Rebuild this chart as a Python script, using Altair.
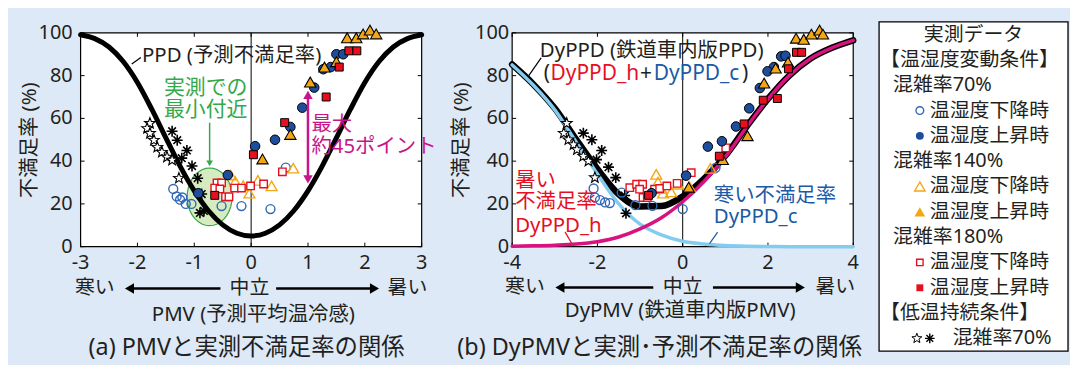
import math
import altair as alt
import pandas as pd

FONT = "'Noto Sans', 'Noto Sans CJK JP'"
BG = "#dde9f6"
TXT = "#231f20"
BLUE_F = "#1d4e9e"
BLUE_O = "#2e66b8"
ORANGE = "#f5a614"
RED = "#e60f1e"
MAGENTA = "#d8127f"
CYAN = "#83ccf0"
GREEN = "#35a84a"
ARROW_MAG = "#c8158a"
RED_TXT = "#e60f24"
BLUE_TXT = "#1b5aa6"
AST = "M -1 0 L 1 0 M 0 -1 L 0 1 M -0.7 -0.7 L 0.7 0.7 M -0.7 0.7 L 0.7 -0.7"
ELLIPSE = "M " + " L ".join(
    "%.3f %.3f" % (0.78 * math.cos(2 * math.pi * k / 36), math.sin(2 * math.pi * k / 36))
    for k in range(36)) + " Z"
STAR = "M " + " L ".join(
    "%.3f %.3f" % ((1.0 if k % 2 == 0 else 0.42) * math.cos(math.radians(-90 + 36 * k)),
                   (1.0 if k % 2 == 0 else 0.42) * math.sin(math.radians(-90 + 36 * k)))
    for k in range(10)) + " Z"
TICK_R, TICK_L, TICK_U, TICK_D = "M 0 0 L 1 0", "M 0 0 L -1 0", "M 0 0 L 0 -1", "M 0 0 L 0 1"

# ---------------- axes ----------------
y_ticks = [0, 20, 40, 60, 80, 100]
y_tick_labels = ["0", "20", "40", "60", "80", "100"]
a_x_ticks = [-3, -2, -1, 0, 1, 2, 3]
a_x_tick_labels = ["-3", "-2", "-1", "0", "1", "2", "3"]
b_x_ticks = [-4, -2, 0, 2, 4]
b_x_tick_labels = ["-4", "-2", "0", "2", "4"]

# ---------------- panel (a): PMV ----------------
a_c_open_x = [-1.37, -1.31, -1.25, -1.21, -1.15, -1.05, -0.52, -0.17, 0.34, 0.61]
a_c_open_y = [27, 23.5, 22, 23, 20, 20, 19, 19, 17.6, 37]
a_c_fill_x = [1.5, 1.62, 1.27, 1.4, 1.11, 0.9, 0.69, 0.42, 0.07, -0.41, -0.93]
a_c_fill_y = [90, 90, 83, 84, 74.4, 65, 56, 50, 47, 33.5, 25]
a_t_open_x = [-0.36, -0.28, -0.14, -0.03, 0.12, 0.36, 0.74]
a_t_open_y = [33.5, 30.5, 28.5, 25, 31, 28.4, 36.7]
a_t_fill_x = [1.69, 1.85, 1.97, 2.09, 2.2, 1.29, 1.5, 1.04, 0.69, 0.2]
a_t_fill_y = [97.7, 97.7, 99.5, 101.3, 99.5, 84, 86.5, 77, 52.5, 41]
a_s_open_x = [-0.6, -0.52, -0.64, -0.55, -0.45, -0.39, -0.29, -0.17, -0.01, 0.22, 0.55]
a_s_open_y = [29.8, 29.8, 27.4, 27, 23.3, 23.3, 27.4, 27.4, 28.4, 29.3, 35]
a_s_fill_x = [1.72, 1.86, 1.55, 1.32, 0.59, 0.04, -0.64]
a_s_fill_y = [91.6, 91.6, 84, 70, 58, 43, 24]
a_star_x = [-1.78, -1.83, -1.78, -1.71, -1.65, -1.57, -1.48, -1.39, -1.27]
a_star_y = [57.7, 55.3, 53, 49.8, 46.5, 44.2, 41.9, 40.5, 32]
a_ast_x = [-1.39, -1.3, -1.13, -1.22, -1.04, -0.94, -0.87, -0.9, -0.83]
a_ast_y = [54, 49.8, 45, 41.4, 37.7, 32, 24.6, 15.8, 16.7]

ppd_x = [-3, -2.75, -2.5, -2.25, -2, -1.75, -1.5, -1.25, -1, -0.75, -0.5, -0.25, 0,
         0.25, 0.5, 0.75, 1, 1.25, 1.5, 1.75, 2, 2.25, 2.5, 2.75, 3]
ppd_y = [99.1, 97.3, 93.4, 86.6, 76.8, 64.4, 50.9, 37.7, 26.1, 16.8, 10.2, 6.3, 5,
         6.3, 10.2, 16.8, 26.1, 37.7, 50.9, 64.4, 76.8, 86.6, 93.4, 97.3, 99.1]

# ---------------- panel (b): DyPMV ----------------
b_c_open_x = [-2.09, -2.06, -1.94, -1.82, -1.71, -1.43, -1.11, -0.71, 0.0, 0.77]
b_c_open_y = [27.2, 23, 21.8, 20.7, 20.4, 25.3, 19.4, 19.1, 17.6, 36.9]
b_c_fill_x = [2.31, 2.41, 2.14, 1.99, 1.81, 1.56, 1.25, 0.92, 0.59, 0.08, -0.73]
b_c_fill_y = [89, 89.3, 84, 82, 74.2, 64.7, 56.2, 49.3, 46.8, 33.2, 25]
b_t_open_x = [-0.62, -0.58, -0.5, -0.46, -0.27, -0.11, 0.16, 0.65]
b_t_open_y = [33.8, 30.2, 27.2, 25, 25.6, 29.2, 28.1, 36.6]
b_t_fill_x = [2.66, 2.84, 3.02, 3.21, 3.29, 2.18, 2.47, 1.91, 1.52, 0.94, 0.14]
b_t_fill_y = [97.5, 97, 99.4, 101.3, 99.4, 83.5, 86.3, 76.5, 51.9, 40.7, 27.8]
b_s_open_x = [-1.24, -1.08, -0.94, -1.01, -0.93, -0.83, -0.66, -0.54, -0.37, -0.13, 0.2, 1.01]
b_s_open_y = [27.6, 29.2, 29.2, 26.9, 23, 23, 26.9, 27.2, 28.4, 29.6, 34.6, 46.2]
b_s_fill_x = [2.67, 2.79, 2.48, 1.89, 2.22, 1.44, 0.86, -0.8]
b_s_fill_y = [90.9, 90.9, 83.2, 68.5, 69.3, 57.4, 42.3, 24]
b_star_x = [-2.72, -2.79, -2.68, -2.56, -2.48, -2.33, -2.21, -2.06]
b_star_y = [57.7, 53.1, 50, 47.7, 45.4, 42.3, 40, 32.3]
b_ast_x = [-2.33, -2.13, -1.9, -2.02, -1.74, -1.57, -1.36, -1.33]
b_ast_y = [53.1, 50, 45, 40.7, 37.2, 32.3, 23.9, 15.6]

dy_x = [-4, -3.5, -3, -2.5, -2, -1.5, -1, -0.5, 0, 0.5, 1, 1.5, 2, 2.5, 3, 3.5, 4]
dyppd_c = [85, 75.5, 64, 49, 34, 20, 10.5, 5.5, 2.5, 1.2, 0.5, 0.2, 0.1, 0, 0, 0, 0]
dyppd_h = [0.2, 0.4, 0.7, 1.2, 2.3, 4.5, 8.3, 13.5, 21, 30.5, 42, 56, 69, 80, 88, 93, 96.5]
dyppd = [85.2, 75.9, 64.7, 50.2, 36.3, 24.5, 18.8, 19, 23.5, 31.7, 42.5, 56.2, 69.1, 80, 88, 93, 96.5]

# ---------------- legend text ----------------
leg_header = "実測データ"
leg_sections = ["【温湿度変動条件】", "【低温持続条件】"]
leg_groups = ["混雑率70%", "混雑率140%", "混雑率180%"]
leg_items = ["温湿度下降時", "温湿度上昇時"]
leg_last = "混雑率70%"

# ---------------- layout (canvas pixels) ----------------
CW, CH = 1068, 357
A_RANGE = [73, 416]
B_RANGE = [507, 850]
Y_RANGE = [239, 24]
LEG_X = [876, 1066]
LEG_Y = [13, 344]
TICK_LABEL_Y = 255


def df(**cols):
    return pd.DataFrame(cols)


def xy(xs, ys):
    return pd.DataFrame({"x": xs, "y": ys})


SY = alt.Scale(domain=[0, 100], range=Y_RANGE, nice=False, zero=False)
YP = alt.Y("y:Q", scale=SY, axis=None)

STYLE = {
    "c_open": dict(shape="circle", filled=False, color=BLUE_O, strokeWidth=1.4, size=80),
    "c_fill": dict(shape="circle", filled=True, fill=BLUE_F, stroke="black", strokeWidth=1, size=92),
    "t_open": dict(shape="triangle-up", filled=False, color=ORANGE, strokeWidth=1.4, size=120),
    "t_fill": dict(shape="triangle-up", filled=True, fill=ORANGE, stroke="black", strokeWidth=1.1, size=130),
    "s_open": dict(shape="square", filled=True, fill="white", stroke=RED, strokeWidth=1.4, size=56),
    "s_fill": dict(shape="square", filled=True, fill=RED, stroke="black", strokeWidth=1, size=64),
    "star": dict(shape=STAR, filled=True, fill="white", stroke="black", strokeWidth=1.1, size=130),
    "ast": dict(shape=AST, filled=False, color="black", strokeWidth=1.6, size=120),
}


def text(data, XE, YE, color=TXT, size=20, align="left", angle=0):
    return alt.Chart(data).mark_text(font=FONT, fontSize=size, color=color, align=align,
                                     baseline="middle", angle=angle).encode(x=XE, y=YE, text="t:N")


def panel(domain, rng, xticks, xlabels, pts, curves, texts, rules, heads, ellipse,
          row_words, row_rules, row_heads, ylab_x, ytitle_x, xtitle, xtitle_x, xtitle_y,
          caption, caption_x, row_y):
    SX = alt.Scale(domain=domain, range=rng, nice=False, zero=False)
    XE = alt.X("x:Q", scale=SX, axis=None)
    L = []
    # plot frame (white area)
    L.append(alt.Chart(df(x=[domain[0]], x2=[domain[1]], y=[0], y2=[100])).mark_rect(
        fill="white", stroke="black", strokeWidth=1.2).encode(x=XE, x2="x2:Q", y=YP, y2="y2:Q"))
    # inner ticks on all four sides
    L.append(alt.Chart(df(x=[domain[0]] * 6, y=y_ticks)).mark_point(
        shape=TICK_R, filled=False, color="black", size=64, opacity=1, strokeWidth=1).encode(x=XE, y=YP))
    L.append(alt.Chart(df(x=[domain[1]] * 6, y=y_ticks)).mark_point(
        shape=TICK_L, filled=False, color="black", size=64, opacity=1, strokeWidth=1).encode(x=XE, y=YP))
    L.append(alt.Chart(df(x=xticks, y=[0] * len(xticks))).mark_point(
        shape=TICK_U, filled=False, color="black", size=64, opacity=1, strokeWidth=1).encode(x=XE, y=YP))
    L.append(alt.Chart(df(x=xticks, y=[100] * len(xticks))).mark_point(
        shape=TICK_D, filled=False, color="black", size=64, opacity=1, strokeWidth=1).encode(x=XE, y=YP))
    if ellipse is not None:
        L.append(alt.Chart(ellipse).mark_point(
            shape=ELLIPSE, filled=True, fill="#d6ebbf", stroke=GREEN, strokeWidth=1.2, size=3364,
            opacity=1).encode(x=XE, y=YP))
    # zero line
    L.append(alt.Chart(df(x=[0], y=[0], y2=[100])).mark_rule(color="black", strokeWidth=1).encode(
        x=XE, y=YP, y2="y2:Q"))
    for d, color, w in curves:
        L.append(alt.Chart(d).mark_line(color=color, strokeWidth=w, interpolate="monotone",
                                        strokeCap="round").encode(x=XE, y=YP))
    for key, d in pts:
        L.append(alt.Chart(d).mark_point(opacity=1, **STYLE[key]).encode(x=XE, y=YP))
    for d, color, w in rules:
        L.append(alt.Chart(d).mark_rule(color=color, strokeWidth=w).encode(
            x=XE, y=YP, x2="x2:Q", y2="y2:Q"))
    for d, shape, color, size in heads:
        L.append(alt.Chart(d).mark_point(shape=shape, filled=True, color=color, size=size,
                                         opacity=1).encode(x=XE, y=YP))
    for d, color, fs, align in texts:
        L.append(text(d, XE, YP, color, fs, align))
    # tick labels
    L.append(text(df(x=xticks, t=xlabels), XE, alt.value(TICK_LABEL_Y), size=20, align="center"))
    L.append(text(df(y=y_ticks, t=y_tick_labels), alt.value(ylab_x), YP, size=20, align="right"))
    # axis titles
    L.append(text(df(t=["不満足率 (%)"]), alt.value(ytitle_x), alt.value(132), size=20.5,
                  align="center", angle=270))
    L.append(text(df(x=[xtitle_x], t=[xtitle]), XE, alt.value(xtitle_y), size=20.5, align="center"))
    # cold <- neutral -> hot row
    L.append(alt.Chart(row_rules).mark_rule(color="black", strokeWidth=2.5).encode(
        x=XE, x2="x2:Q", y=alt.value(row_y)))
    for d, shape in row_heads:
        L.append(alt.Chart(d).mark_point(shape=shape, filled=True, color="black", size=110,
                                         opacity=1).encode(x=XE, y=alt.value(row_y)))
    L.append(text(row_words, XE, alt.value(row_y), size=20, align="center"))
    # caption
    L.append(text(df(x=[caption_x], t=[caption]), XE, alt.value(341), size=23.5, align="center"))
    return L


# ---------- panel (a) ----------
layers_a = panel(
    [-3, 3], A_RANGE, a_x_ticks, a_x_tick_labels,
    pts=[("star", xy(a_star_x, a_star_y)), ("ast", xy(a_ast_x, a_ast_y)),
         ("c_open", xy(a_c_open_x, a_c_open_y)), ("t_open", xy(a_t_open_x, a_t_open_y)),
         ("s_open", xy(a_s_open_x, a_s_open_y)), ("c_fill", xy(a_c_fill_x, a_c_fill_y)),
         ("t_fill", xy(a_t_fill_x, a_t_fill_y)), ("s_fill", xy(a_s_fill_x, a_s_fill_y))],
    curves=[(xy(ppd_x, ppd_y), "black", 5)],
    texts=[
        (df(x=[-1.92], y=[89], t=["PPD (予測不満足率)"]), TXT, 20.5, "left"),
        (df(x=[-0.8, -0.8], y=[74.4, 64], t=["実測での", "最小付近"]), GREEN, 21, "center"),
        (df(x=[1.06, 1.06], y=[56.7, 46.5], t=["最大", "約45ポイント"]), ARROW_MAG, 20.5, "left"),
    ],
    rules=[
        (df(x=[-2.1], y=[85.4], x2=[-1.94], y2=[88.5]), "black", 1.2),
        (df(x=[-0.73], y=[58], x2=[-0.73], y2=[40]), GREEN, 1.5),
        (df(x=[1.0], y=[31], x2=[1.0], y2=[71.5]), ARROW_MAG, 2.5),
    ],
    heads=[
        (xy([-0.73], [39]), "triangle-down", GREEN, 45),
        (xy([1.0], [71]), "triangle-up", ARROW_MAG, 90),
        (xy([1.0], [31.5]), "triangle-down", ARROW_MAG, 90),
    ],
    ellipse=xy([-0.73], [23.3]),
    row_words=df(x=[-2.75, -0.03, 2.75], t=["寒い", "中立", "暑い"]),
    row_rules=df(x=[-2.14, 0.44], x2=[-0.54, 2.17]),
    row_heads=[(df(x=[-2.14]), "triangle-left"), (df(x=[2.17]), "triangle-right")],
    ylab_x=65, ytitle_x=22, xtitle="PMV (予測平均温冷感)", xtitle_x=0.04, xtitle_y=308,
    caption="(a) PMVと実測不満足率の関係", caption_x=-0.08, row_y=281)

# ---------- panel (b) ----------
layers_b = panel(
    [-4, 4], B_RANGE, b_x_ticks, b_x_tick_labels,
    pts=[("star", xy(b_star_x, b_star_y)), ("ast", xy(b_ast_x, b_ast_y)),
         ("c_open", xy(b_c_open_x, b_c_open_y)), ("t_open", xy(b_t_open_x, b_t_open_y)),
         ("s_open", xy(b_s_open_x, b_s_open_y)), ("c_fill", xy(b_c_fill_x, b_c_fill_y)),
         ("t_fill", xy(b_t_fill_x, b_t_fill_y)), ("s_fill", xy(b_s_fill_x, b_s_fill_y))],
    curves=[(xy(dy_x, dyppd), "black", 6.5), (xy(dy_x, dyppd_c), CYAN, 3.5),
            (xy(dy_x, dyppd_h), MAGENTA, 3.5)],
    texts=[
        (df(x=[-3.35], y=[91.3], t=["DyPPD (鉄道車内版PPD)"]), TXT, 20.5, "left"),
        (df(x=[-3.26, -1.0, 1.39], y=[80.8, 80.8, 80.8], t=["(", "+", ")"]), TXT, 21, "left"),
        (df(x=[-3.1], y=[80.8], t=["DyPPD_h"]), RED_TXT, 21, "left"),
        (df(x=[-0.68], y=[80.8], t=["DyPPD_c"]), BLUE_TXT, 21, "left"),
        (df(x=[-3.93, -3.93, -3.93], y=[30.6, 20.7, 9.7], t=["暑い", "不満足率", "DyPPD_h"]),
         RED_TXT, 20.5, "left"),
        (df(x=[0.73, 0.73], y=[23.6, 13.9], t=["寒い不満足率", "DyPPD_c"]), BLUE_TXT, 20.5, "left"),
    ],
    rules=[
        (df(x=[-3.61], y=[80], x2=[-3.32], y2=[88.3]), "black", 1.2),
        (df(x=[-2.76], y=[6.9], x2=[-2.6], y2=[1.4]), RED_TXT, 1.2),
        (df(x=[0.82], y=[6.8], x2=[0.63], y2=[1.4]), BLUE_TXT, 1.2),
    ],
    heads=[],
    ellipse=None,
    row_words=df(x=[-3.7, 0.0, 3.58], t=["寒い", "中立", "暑い"]),
    row_rules=df(x=[-2.88, 0.71], x2=[-0.69, 2.76]),
    row_heads=[(df(x=[-2.88]), "triangle-left"), (df(x=[2.76]), "triangle-right")],
    ylab_x=504, ytitle_x=457, xtitle="DyPMV (鉄道車内版PMV)", xtitle_x=-0.06, xtitle_y=304,
    caption="(b) DyPMVと実測･予測不満足率の関係", caption_x=-0.54, row_y=280)

# ---------- legend box ----------
LX = alt.X("x:Q", scale=alt.Scale(domain=[0, 190], range=LEG_X, nice=False, zero=False), axis=None)
LY = alt.Y("row:Q", scale=alt.Scale(domain=[-0.5, 12.5], range=LEG_Y, nice=False, zero=False),
           axis=None)

leg_left = df(
    t=[leg_sections[0], leg_groups[0], leg_items[0], leg_items[1], leg_groups[1], leg_items[0],
       leg_items[1], leg_groups[2], leg_items[0], leg_items[1], leg_sections[1], leg_last],
    row=[1, 2, 3, 4, 5, 6, 7, 8, 9, 10, 11, 12],
    x=[1, 14, 51, 51, 14, 51, 51, 14, 51, 51, 1, 74],
)
layers_leg = [
    alt.Chart(df(x=[0], x2=[190], row=[-0.5], row2=[12.5])).mark_rect(
        fill="white", stroke="black", strokeWidth=1.3).encode(x=LX, x2="x2:Q", y=LY, y2="row2:Q"),
    text(df(t=[leg_header], row=[0], x=[95]), LX, LY, size=20, align="center"),
    text(leg_left, LX, LY, size=20, align="left"),
]
leg_syms = [
    ("circle", False, BLUE_O, 3, 60),
    ("circle", True, BLUE_F, 4, 64),
    ("triangle-up", False, ORANGE, 6, 110),
    ("triangle-up", True, ORANGE, 7, 115),
    ("square", False, RED, 9, 42),
    ("square", True, RED, 10, 48),
]
for shape, filled, color, row, size in leg_syms:
    layers_leg.append(alt.Chart(df(x=[41], row=[row])).mark_point(
        shape=shape, filled=filled, color=color, size=size, opacity=1, strokeWidth=1.4).encode(
        x=LX, y=LY))
layers_leg.append(alt.Chart(df(x=[38], row=[12])).mark_point(
    shape=STAR, filled=False, color="black", size=110, opacity=1, strokeWidth=1).encode(x=LX, y=LY))
layers_leg.append(alt.Chart(df(x=[51], row=[12])).mark_point(
    shape=AST, filled=False, color="black", size=95, opacity=1, strokeWidth=1.4).encode(x=LX, y=LY))

chart = alt.layer(*(layers_a + layers_b + layers_leg)).resolve_scale(
    x="independent", y="independent"
).properties(
    width=CW, height=CH, autosize=alt.AutoSizeParams(type="none"), padding=0, background=BG
).configure_view(strokeWidth=0)

chart.save("out.html", embed_options={"renderer": "svg", "actions": False})
